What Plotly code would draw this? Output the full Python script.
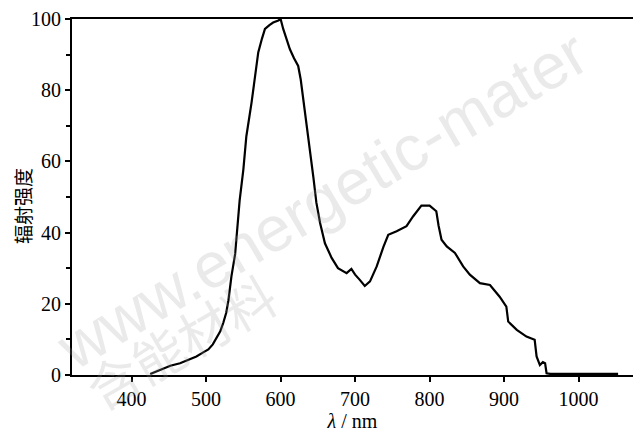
import plotly.graph_objects as go

# wavelength (nm) and relative radiant intensity
wavelength = [425, 435, 442, 452, 465, 477, 487, 495, 503, 509, 514, 519, 523, 527,
              530, 534, 539, 541, 543, 545, 550, 554, 561, 565.5, 570, 575, 579, 585,
              590, 597, 600, 603.5, 608, 612.5, 618, 623.6, 627, 630, 637, 644, 648,
              653, 659.5, 668.5, 677, 688.6, 695, 700, 706, 713, 720, 729, 738, 744.5,
              755.7, 769, 778, 789, 800, 809, 812, 816, 823, 834, 845, 854, 867.5, 881,
              894, 903, 905.5, 917, 930, 941, 943.6, 948, 952, 955, 957, 962, 1053]
intensity = [0.3, 1.2, 1.9, 2.6, 3.3, 4.3, 5.2, 6.2, 7.2, 8.6, 10.3, 12.3, 14.6, 17.5,
             21, 27.7, 34, 40, 45.5, 49, 57.7, 67, 76.5, 84, 90.6, 94.5, 97.2, 98.3,
             99, 99.6, 100, 97.2, 94.5, 91.5, 89, 86.8, 83, 78.4, 67, 55.5, 48.4,
             42.7, 37, 32.9, 30, 28.6, 29.8, 28.2, 26.8, 25, 26.3, 30.5, 36, 39.4,
             40.4, 41.8, 44.6, 47.6, 47.6, 46, 42, 38, 36.1, 34.3, 30.5, 28.2, 25.8, 25.3,
             22, 19.2, 15, 12.7, 10.8, 9.9, 5.2, 2.8, 3.6, 3.3, 0.5, 0.3, 0.3]

x_ticks = [400, 500, 600, 700, 800, 900, 1000]
y_ticks = [0, 20, 40, 60, 80, 100]

W, H = 633, 435
L, R, T, B = 72, 0, 19, 60

fig = go.Figure()
fig.add_trace(go.Scatter(x=wavelength, y=intensity, mode="lines",
                         line=dict(color="black", width=2.2), showlegend=False,
                         hoverinfo="skip"))

serif = "Liberation Serif"

def px2paper(px, py):
    return (px - L) / (W - L - R), (H - B - py) / (H - T - B)

wx, wy = px2paper(322, 200)
cx, cy = px2paper(180, 340)
tx, ty = px2paper(22, 206)
wm_color = "rgba(160,160,160,0.22)"
fig.add_annotation(x=wx, y=wy, xref="paper", yref="paper", showarrow=False,
                   xanchor="center", yanchor="middle",
                   text="www.energetic-mater", textangle=-30.5,
                   font=dict(family="Liberation Sans", size=64, color=wm_color))
fig.add_annotation(x=cx, y=cy, xref="paper", yref="paper", showarrow=False,
                   xanchor="center", yanchor="middle",
                   text="含能材料", textangle=-30,
                   font=dict(family="Noto Sans CJK SC", size=52, color=wm_color))
# y-axis title
fig.add_annotation(x=tx, y=ty, xref="paper", yref="paper", showarrow=False,
                   xanchor="center", yanchor="middle",
                   text="辐射强度", textangle=-90,
                   font=dict(family="Noto Sans CJK SC", size=19, color="black"))

fig.update_layout(
    width=W, height=H,
    margin=dict(l=L, r=R, t=T, b=B, pad=0),
    paper_bgcolor="white", plot_bgcolor="white",
    font=dict(family=serif, size=20, color="black"),
    xaxis=dict(range=[320, 1073], tickvals=x_ticks, ticktext=[str(v) for v in x_ticks],
               ticks="outside", ticklen=5, tickwidth=1.5, tickcolor="black",
               showline=True, linewidth=2, linecolor="black", mirror=True,
               showgrid=False, zeroline=False,
               tickfont=dict(family=serif, size=20),
               title=dict(text="<i>λ</i> / nm", font=dict(family=serif, size=20),
                          standoff=3)),
    yaxis=dict(range=[0, 100], tickvals=y_ticks, ticktext=[str(v) for v in y_ticks],
               ticks="outside", ticklen=5, tickwidth=1.5, tickcolor="black",
               minor=dict(dtick=10, ticks="outside", ticklen=4, tickwidth=1.5,
                          tickcolor="black"),
               showline=True, linewidth=2, linecolor="black", mirror=False,
               showgrid=False, zeroline=False,
               tickfont=dict(family=serif, size=20)),
)

fig.write_html("out.html")
